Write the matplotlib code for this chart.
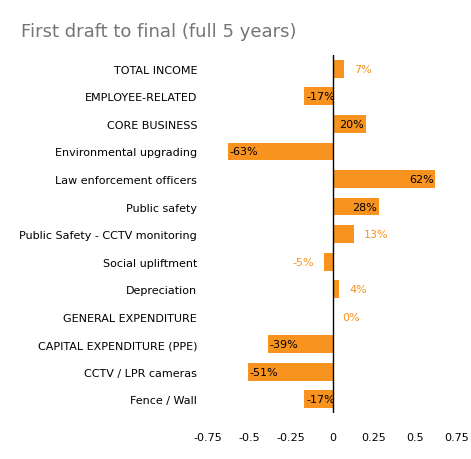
import matplotlib
matplotlib.use("Agg")
import matplotlib.pyplot as plt

categories = ["TOTAL INCOME","EMPLOYEE-RELATED","CORE BUSINESS","Environmental upgrading",
              "Law enforcement officers","Public safety","Public Safety - CCTV monitoring",
              "Social upliftment","Depreciation","GENERAL EXPENDITURE",
              "CAPITAL EXPENDITURE (PPE)","CCTV / LPR cameras","Fence / Wall"]
values = [0.07,-0.17,0.20,-0.63,0.62,0.28,0.13,-0.05,0.04,0.0,-0.39,-0.51,-0.17]
ticks = [-0.75,-0.5,-0.25,0,0.25,0.5,0.75]
tick_labels = ["-0.75","-0.5","-0.25","0","0.25","0.5","0.75"]

color = "#f7931e"
fs = 8
fig = plt.figure(figsize=(4.71,4.60), dpi=100)
ax = fig.add_axes([0.442, 0.1, 0.528, 0.778])
y = list(range(len(categories)))
ax.barh(y, values, height=0.65, color=color)
ax.set_ylim(len(categories)-0.5, -0.5)
ax.set_xlim(-0.75, 0.75)
ax.set_xticks(ticks)
ax.set_xticklabels(tick_labels, fontsize=fs)
ax.set_yticks(y)
ax.set_yticklabels(categories, fontsize=fs)
ax.tick_params(axis="y", length=0, pad=8)
ax.tick_params(axis="x", length=0, pad=14)
for s in ax.spines.values():
    s.set_visible(False)
ax.axvline(0, color="black", lw=1)
for i, v in enumerate(values):
    lab = f"{round(v*100):d}%"
    if abs(v) >= 0.15:
        if v > 0:
            ax.text(v-0.01, i, lab, ha="right", va="center", fontsize=fs, color="black")
        else:
            ax.text(v+0.01, i, lab, ha="left", va="center", fontsize=fs, color="black")
    else:
        if v >= 0:
            ax.text(v+0.06, i, lab, ha="left", va="center", fontsize=fs, color=color)
        else:
            ax.text(v-0.06, i, lab, ha="right", va="center", fontsize=fs, color=color)
fig.text(0.045, 0.93, "First draft to final (full 5 years)", fontsize=13, color="#757575",
         va="center")
fig.savefig("out.png", dpi=100)
